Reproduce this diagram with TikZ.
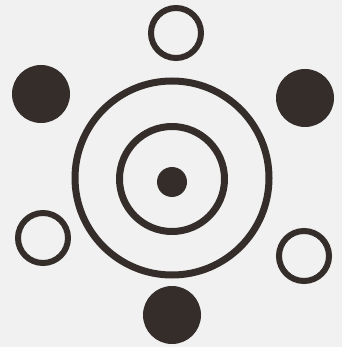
\documentclass[tikz,border=0pt]{standalone}
\usetikzlibrary{positioning}
\definecolor{cink}{HTML}{352D2A}
\definecolor{cpaper}{HTML}{F1F1F2}
\tikzset{
  every picture/.style={line width=6pt},
  hollow/.style={circle, draw=cink, fill=none, inner sep=0pt, minimum size=50pt},
  solid/.style={circle, fill=cink, inner sep=0pt, minimum size=58pt},
  ring/.style={circle, draw=cink, line width=7pt, inner sep=0pt, minimum size=#1},
}

\begin{document}
\begin{tikzpicture}[x=1pt, y=-1pt]
  \fill[cpaper] (0,0) rectangle (342,347);
  \useasboundingbox (0,0) rectangle (342,347);
  % centre
  \node[ring=194pt] (outer) at (172,178) {};
  \node[ring=105pt] (inner) at (172,179) {};
  \node[solid, minimum size=30pt] (dot) at (172,182) {};
  % circles round it
  \node[hollow] (top) at (176,33) {};
  \node[solid] (upleft) at (41,94) {};
  \node[solid] (upright) at (305,98) {};
  \node[hollow] (lowleft) at (43,238) {};
  \node[hollow] (lowright) at (304,256) {};
  \node[solid] (bottom) at (172,315) {};
\end{tikzpicture}
\end{document}
